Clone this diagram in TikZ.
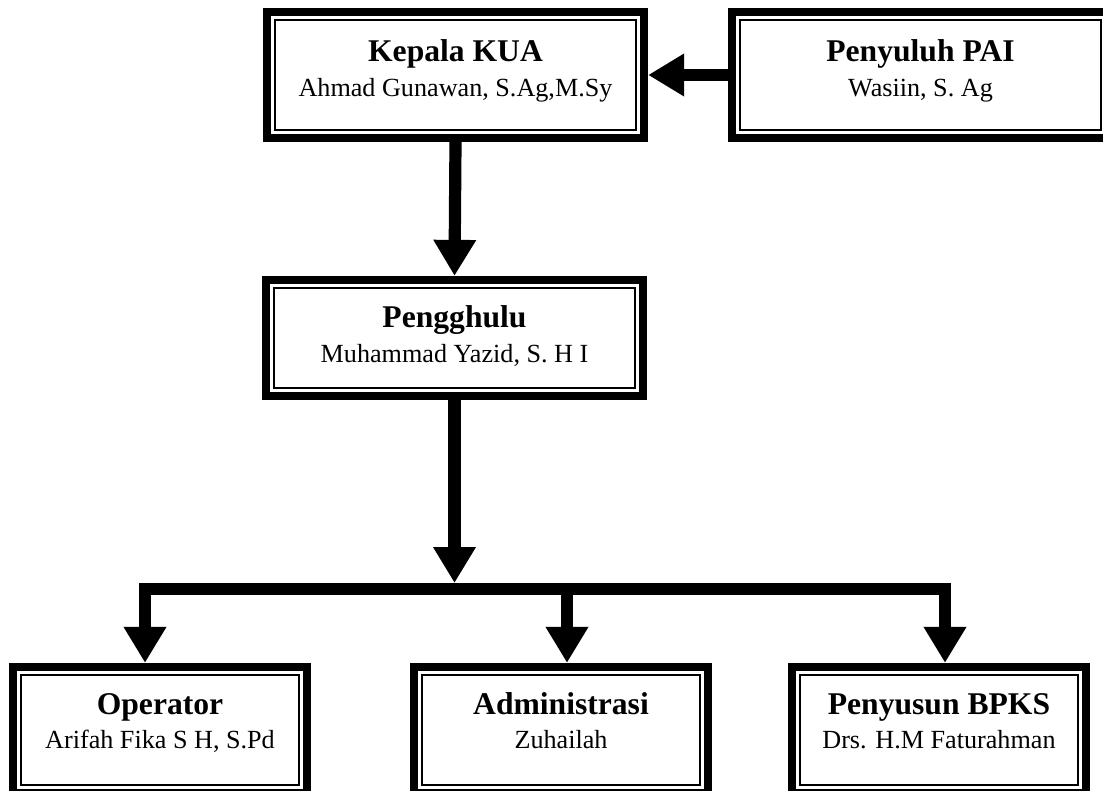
\documentclass[tikz,border=0pt]{standalone}
\usepackage{fontspec}
\setmainfont{Liberation Serif}
\usetikzlibrary{arrows.meta}
\usetikzlibrary{calc}

\begin{document}
\begin{tikzpicture}[x=0.4587pt, y=-0.4587pt]
        % ================= Gaya =================
        \tikzset{
            % kotak jabatan (garis tebal luar)
            kotak/.style={draw=black, line width=3.8pt, fill=white, rectangle, inner sep=0pt, minimum width=377*0.4587pt, minimum height=126*0.4587pt},
            % kotak bawah (lebih sempit)
            kotakkecil/.style={kotak, minimum width=294*0.4587pt},
            % garis tipis di dalam kotak
            bingkai/.style={draw=black, line width=0.8pt},
            % nama jabatan
            judul/.style={anchor=base, font=\fontsize{14.5}{17}\selectfont\bfseries},
            % nama pejabat
            nama/.style={anchor=base, font=\fontsize{12}{14}\selectfont},
            % panah tebal
            panah/.style={draw=black, line width=5.6pt, -{Triangle[length=16.5pt, width=18.5pt]}}
        }

        \useasboundingbox (0,0) rectangle (1103,791);
        \clip (0,0) rectangle (1103,791);

        % ================= Baris atas =================
        \node[kotak] (kepala) at (455.5, 75) {};
        \node[kotak] (penyuluh) at (920.5, 75) {};

        % ================= Baris tengah =================
        \node[kotak, minimum height=116*0.4587pt] (pengghulu) at (454.5, 338) {};

        % ================= Baris bawah =================
        \node[kotakkecil] (operator) at (160, 730) {};
        \node[kotakkecil] (admin) at (561, 730) {};
        \node[kotakkecil] (penyusun) at (939, 730) {};

        % garis tipis bagian dalam
        \foreach \n in {kepala, penyuluh, pengghulu, operator, admin, penyusun}
            \draw[bingkai] ([shift={(12,-12)}]\n.south west) rectangle ([shift={(-12,12)}]\n.north east);

        % teks
        \node[judul] (kepala-j) at ($(kepala.north)+(0,54)$) {Kepala KUA};
        \node[nama] (kepala-n) at ($(kepala.north)+(0,89)$) {Ahmad Gunawan, S.Ag,M.Sy};
        \node[judul] (penyuluh-j) at ($(penyuluh.north)+(0,54)$) {Penyuluh PAI};
        \node[nama] (penyuluh-n) at ($(penyuluh.north)+(0,89)$) {Wasiin, S. Ag};
        \node[judul] (pengghulu-j) at ($(pengghulu.north)+(0,52)$) {Pengghulu};
        \node[nama] (pengghulu-n) at ($(pengghulu.north)+(0,87)$) {Muhammad Yazid, S. H I};
        \node[judul] (operator-j) at ($(operator.north)+(0,52)$) {Operator};
        \node[nama] (operator-n) at ($(operator.north)+(0,86)$) {Arifah Fika S H, S.Pd};
        \node[judul] (admin-j) at ($(admin.north)+(0,52)$) {Administrasi};
        \node[nama] (admin-n) at ($(admin.north)+(0,86)$) {Zuhailah};
        \node[judul] (penyusun-j) at ($(penyusun.north)+(0,52)$) {Penyusun BPKS};
        \node[nama] (penyusun-n) at ($(penyusun.north)+(0,86)$) {Drs. H.M Faturahman};

        % ================= Panah =================
        \coordinate (cabang) at (454.5, 589);

        \draw[panah] (penyuluh) -- (kepala);
        \draw[panah] (kepala.south) -- (pengghulu.north);
        \draw[panah] (pengghulu.south) -- ($(cabang)+(0,-6)$);

        \draw[panah] (cabang) -| ($(operator.north)+(-15,0)$);
        \draw[panah] (cabang) -| ($(admin.north)+(6,0)$);
        \draw[panah] (cabang) -| ($(penyusun.north)+(6,0)$);

\end{tikzpicture}
\end{document}
